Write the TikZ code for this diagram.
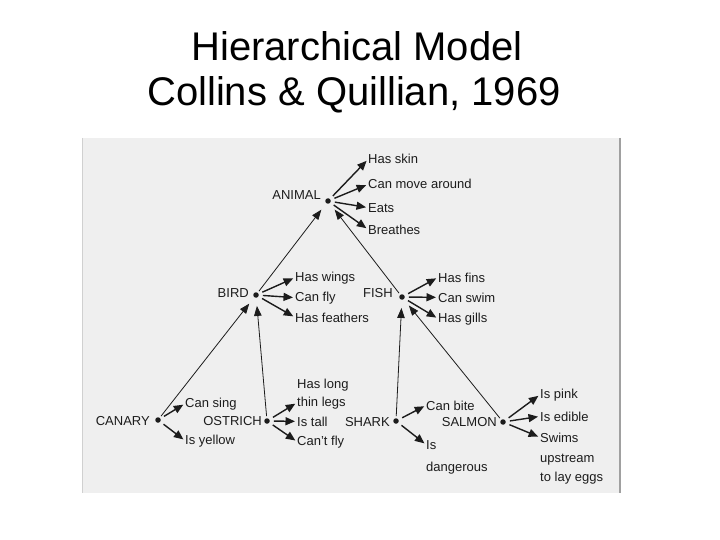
\documentclass[tikz,border=0pt]{standalone}
\usepackage{fontspec}
\setmainfont{Liberation Sans}
\usetikzlibrary{arrows.meta}
\definecolor{ink}{HTML}{1C1C1C}
\definecolor{paper}{HTML}{EFEFEF}
\definecolor{edge}{HTML}{A0A0A0}
\begin{document}
\begin{tikzpicture}[x=1pt,y=-1pt,
  lbl/.style={font=\fontsize{13}{15}\selectfont, text=ink, inner sep=0pt, anchor=base west},
  cat/.style={font=\fontsize{13}{15}\selectfont, text=ink, inner sep=0pt, anchor=base east},
  dotn/.style={circle, fill=ink, inner sep=0pt, minimum size=5.5pt},
  prop/.style={draw=ink, line width=1.4pt, -{Triangle[length=9.5pt,width=8pt]}, shorten <=4pt, shorten >=2pt},
  isa/.style={draw=ink, line width=0.8pt, -{Triangle[length=10pt,width=7.5pt]}, shorten <=2pt, shorten >=8pt},
  title/.style={font=\fontsize{40}{45}\selectfont, text=black, inner sep=0pt, anchor=base}
]
\useasboundingbox (0,0) rectangle (720,540);
\fill[white] (0,0) rectangle (720,540);

% title
\node[title] (t1) at (357,61) {Hierarchical Model};
\node[title] (t2) at (354,106) {Collins \& Quillian, 1969};

% scanned page
\fill[paper] (82,138) rectangle (620,493);
\draw[edge, line width=1.5pt] (620,138) -- (620,493);
\draw[edge!50, line width=0.6pt] (82.5,138) -- (82.5,493);

% category dots
\node[dotn] (animal) at (328,201) {};
\node[dotn] (bird) at (256,295) {};
\node[dotn] (fish) at (402,297) {};
\node[dotn] (canary) at (158,420) {};
\node[dotn] (ostrich) at (267,421) {};
\node[dotn] (shark) at (396,421) {};
\node[dotn] (salmon) at (503,422) {};

% category names
\node[cat] (animalL) at (321,200) {ANIMAL};
\node[cat] (birdL) at (249,297) {BIRD};
\node[cat] (fishL) at (393,297) {FISH};
\node[cat] (canaryL) at (150,425) {CANARY};
\node[cat] (ostrichL) at (262,425) {OSTRICH};
\node[cat] (sharkL) at (390,426) {SHARK};
\node[cat] (salmonL) at (497,426) {SALMON};

% properties
\node[lbl] (a1) at (368,164) {Has skin};
\node[lbl] (a2) at (368,189) {Can move around};
\node[lbl] (a3) at (368,212) {Eats};
\node[lbl] (a4) at (368,234) {Breathes};

\node[lbl] (b1) at (295,281) {Has wings};
\node[lbl] (b2) at (295,301) {Can fly};
\node[lbl] (b3) at (295,322) {Has feathers};

\node[lbl] (f1) at (438,282) {Has fins};
\node[lbl] (f2) at (438,302) {Can swim};
\node[lbl] (f3) at (438,322) {Has gills};

\node[lbl] (c1) at (185,407) {Can sing};
\node[lbl] (c2) at (185,444) {Is yellow};

\node[lbl] (o1) at (297,388) {Has long};
\node[lbl] (o2) at (297,406) {thin legs};
\node[lbl] (o3) at (297,426) {Is tall};
\node[lbl] (o4) at (297,445) {Can't fly};

\node[lbl] (s1) at (426,410) {Can bite};
\node[lbl] (s2) at (426,449) {Is};
\node[lbl] (s3) at (426,471) {dangerous};

\node[lbl] (m1) at (540,398) {Is pink};
\node[lbl] (m2) at (540,421) {Is edible};
\node[lbl] (m3) at (540,442) {Swims};
\node[lbl] (m4) at (540,462) {upstream};
\node[lbl] (m5) at (540,481) {to lay eggs};

% property arrows
\draw[prop] (animal) -- (a1.west);
\draw[prop] (animal) -- (a2.west);
\draw[prop] (animal) -- (a3.west);
\draw[prop] (animal) -- (a4.west);
\draw[prop] (bird) -- (b1.west);
\draw[prop] (bird) -- (b2.west);
\draw[prop] (bird) -- (b3.west);
\draw[prop] (fish) -- (f1.west);
\draw[prop] (fish) -- (f2.west);
\draw[prop] (fish) -- (f3.west);
\draw[prop] (canary) -- (c1.west);
\draw[prop] (canary) -- (c2.west);
\draw[prop] (ostrich) -- (o2.west);
\draw[prop] (ostrich) -- (o3.west);
\draw[prop] (ostrich) -- (o4.west);
\draw[prop] (shark) -- (s1.west);
\draw[prop] (shark) -- (s2.west);
\draw[prop] (salmon) -- (m1.west);
\draw[prop] (salmon) -- (m2.west);
\draw[prop] (salmon) -- (m3.west);

% isa links
\draw[isa] (canary) -- (bird);
\draw[isa] (ostrich) -- (bird);
\draw[isa] (bird) -- (animal);
\draw[isa] (fish) -- (animal);
\draw[isa] (shark) -- (fish);
\draw[isa] (salmon) -- (fish);
\end{tikzpicture}
\end{document}
